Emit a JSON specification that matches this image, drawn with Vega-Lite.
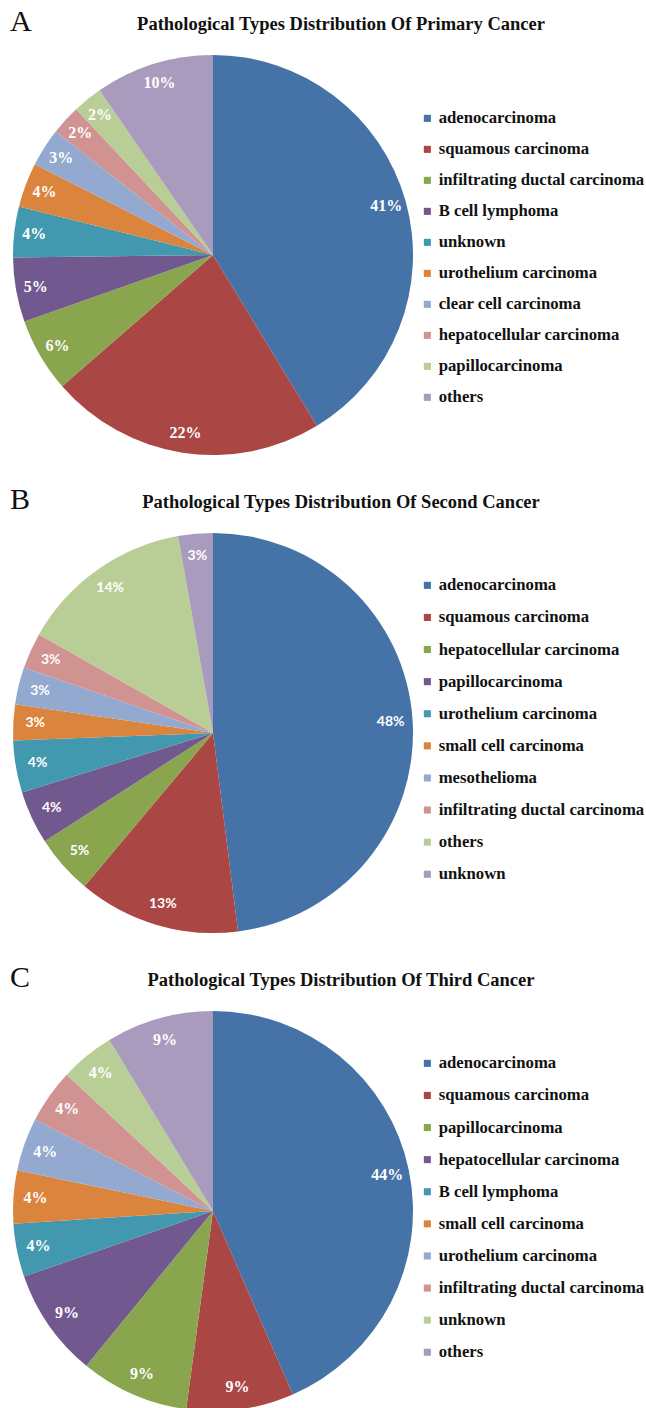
{
  "$schema": "https://vega.github.io/schema/vega-lite/v6.json",
  "background": "white",
  "padding": {"left": 0, "top": 6, "right": 0, "bottom": 0},
  "spacing": 28,
  "config": {
    "view": {"stroke": null},
    "font": "Liberation Serif",
    "range": {"category": ["#4572A7", "#AA4643", "#89A54E", "#71588F", "#4198AF", "#DB843D", "#93A9CF", "#D19392", "#B9CD96", "#A99BBD"]},
    "legend": {
      "orient": "none",
      "title": null,
      "labelFont": "Liberation Serif",
      "labelFontWeight": "bold",
      "labelFontSize": 16.7,
      "labelColor": "#111",
      "labelLimit": 400,
      "labelOffset": 3,
      "symbolType": "square",
      "symbolSize": 50,
      "symbolStrokeWidth": 0,
      "rowPadding": 13
    },
    "text": {"font": "Liberation Serif"},
    "title": {"font": "Liberation Serif", "color": "#111"}
  },
  "resolve": {"scale": {"color": "independent"}, "legend": {"color": "independent"}},
  "vconcat": [
    {
      "title": {"text": "A", "anchor": "start", "frame": "group", "fontSize": 30, "fontWeight": "normal", "dx": 10, "dy": 22, "offset": 0},
      "vconcat": [
        {
          "width": 426,
          "height": 402,
          "title": {"text": "Pathological Types Distribution Of Primary Cancer", "anchor": "middle", "frame": "group", "fontSize": 18.5, "fontWeight": "bold", "dx": 128, "offset": 21},
          "data": {"values": [
            {"type": "adenocarcinoma", "share": 0.413, "rank": 1},
            {"type": "squamous carcinoma", "share": 0.223, "rank": 2},
            {"type": "infiltrating ductal carcinoma", "share": 0.060, "rank": 3},
            {"type": "B cell lymphoma", "share": 0.052, "rank": 4},
            {"type": "unknown", "share": 0.041, "rank": 5},
            {"type": "urothelium carcinoma", "share": 0.036, "rank": 6},
            {"type": "clear cell carcinoma", "share": 0.031, "rank": 7},
            {"type": "hepatocellular carcinoma", "share": 0.024, "rank": 8},
            {"type": "papillocarcinoma", "share": 0.024, "rank": 9},
            {"type": "others", "share": 0.096, "rank": 10}
          ]},
          "layer": [
            {
              "mark": {"type": "arc", "radius": 200},
              "encoding": {
                "theta": {"field": "share", "type": "quantitative", "stack": true},
                "order": {"field": "rank", "type": "quantitative"},
                "color": {"field": "type", "type": "nominal", "sort": null, "legend": {"legendX": 419, "legendY": 56}}
              }
            },
            {
              "mark": {"type": "text", "radius": 180, "fill": "white", "fontWeight": "bold", "fontSize": 16, "font": "Liberation Serif"},
              "encoding": {
                "theta": {"field": "share", "type": "quantitative", "stack": true},
                "order": {"field": "rank", "type": "quantitative"},
                "detail": {"field": "type", "type": "nominal"},
                "text": {"field": "share", "type": "quantitative", "format": ".0%"}
              }
            }
          ]
        }
      ]
    },
    {
      "title": {"text": "B", "anchor": "start", "frame": "group", "fontSize": 30, "fontWeight": "normal", "dx": 10, "dy": 22, "offset": 0},
      "vconcat": [
        {
          "width": 426,
          "height": 402,
          "title": {"text": "Pathological Types Distribution Of Second Cancer", "anchor": "middle", "frame": "group", "fontSize": 18.5, "fontWeight": "bold", "dx": 128, "offset": 21},
          "data": {"values": [
            {"type": "adenocarcinoma", "share": 0.480, "rank": 1},
            {"type": "squamous carcinoma", "share": 0.131, "rank": 2},
            {"type": "hepatocellular carcinoma", "share": 0.048, "rank": 3},
            {"type": "papillocarcinoma", "share": 0.043, "rank": 4},
            {"type": "urothelium carcinoma", "share": 0.042, "rank": 5},
            {"type": "small cell carcinoma", "share": 0.029, "rank": 6},
            {"type": "mesothelioma", "share": 0.030, "rank": 7},
            {"type": "infiltrating ductal carcinoma", "share": 0.029, "rank": 8},
            {"type": "others", "share": 0.140, "rank": 9},
            {"type": "unknown", "share": 0.028, "rank": 10}
          ]},
          "layer": [
            {
              "mark": {"type": "arc", "radius": 200},
              "encoding": {
                "theta": {"field": "share", "type": "quantitative", "stack": true},
                "order": {"field": "rank", "type": "quantitative"},
                "color": {"field": "type", "type": "nominal", "sort": null, "legend": {"legendX": 419, "legendY": 45, "rowPadding": 14.1}}
              }
            },
            {
              "mark": {"type": "text", "radius": 178, "fill": "white", "fontWeight": "bold", "fontSize": 14, "font": "Lato"},
              "encoding": {
                "theta": {"field": "share", "type": "quantitative", "stack": true},
                "order": {"field": "rank", "type": "quantitative"},
                "detail": {"field": "type", "type": "nominal"},
                "text": {"field": "share", "type": "quantitative", "format": ".0%"}
              }
            }
          ]
        }
      ]
    },
    {
      "title": {"text": "C", "anchor": "start", "frame": "group", "fontSize": 30, "fontWeight": "normal", "dx": 10, "dy": 22, "offset": 0},
      "vconcat": [
        {
          "width": 426,
          "height": 402,
          "title": {"text": "Pathological Types Distribution Of Third Cancer", "anchor": "middle", "frame": "group", "fontSize": 18.5, "fontWeight": "bold", "dx": 128, "offset": 21},
          "data": {"values": [
            {"type": "adenocarcinoma", "share": 0.436, "rank": 1},
            {"type": "squamous carcinoma", "share": 0.087, "rank": 2},
            {"type": "papillocarcinoma", "share": 0.088, "rank": 3},
            {"type": "hepatocellular carcinoma", "share": 0.088, "rank": 4},
            {"type": "B cell lymphoma", "share": 0.043, "rank": 5},
            {"type": "small cell carcinoma", "share": 0.043, "rank": 6},
            {"type": "urothelium carcinoma", "share": 0.043, "rank": 7},
            {"type": "infiltrating ductal carcinoma", "share": 0.044, "rank": 8},
            {"type": "unknown", "share": 0.044, "rank": 9},
            {"type": "others", "share": 0.087, "rank": 10}
          ]},
          "layer": [
            {
              "mark": {"type": "arc", "radius": 200},
              "encoding": {
                "theta": {"field": "share", "type": "quantitative", "stack": true},
                "order": {"field": "rank", "type": "quantitative"},
                "color": {"field": "type", "type": "nominal", "sort": null, "legend": {"legendX": 419, "legendY": 45, "rowPadding": 14.1}}
              }
            },
            {
              "mark": {"type": "text", "radius": 178, "fill": "white", "fontWeight": "bold", "fontSize": 16, "font": "Liberation Serif"},
              "encoding": {
                "theta": {"field": "share", "type": "quantitative", "stack": true},
                "order": {"field": "rank", "type": "quantitative"},
                "detail": {"field": "type", "type": "nominal"},
                "text": {"field": "share", "type": "quantitative", "format": ".0%"}
              }
            }
          ]
        }
      ]
    }
  ]
}
